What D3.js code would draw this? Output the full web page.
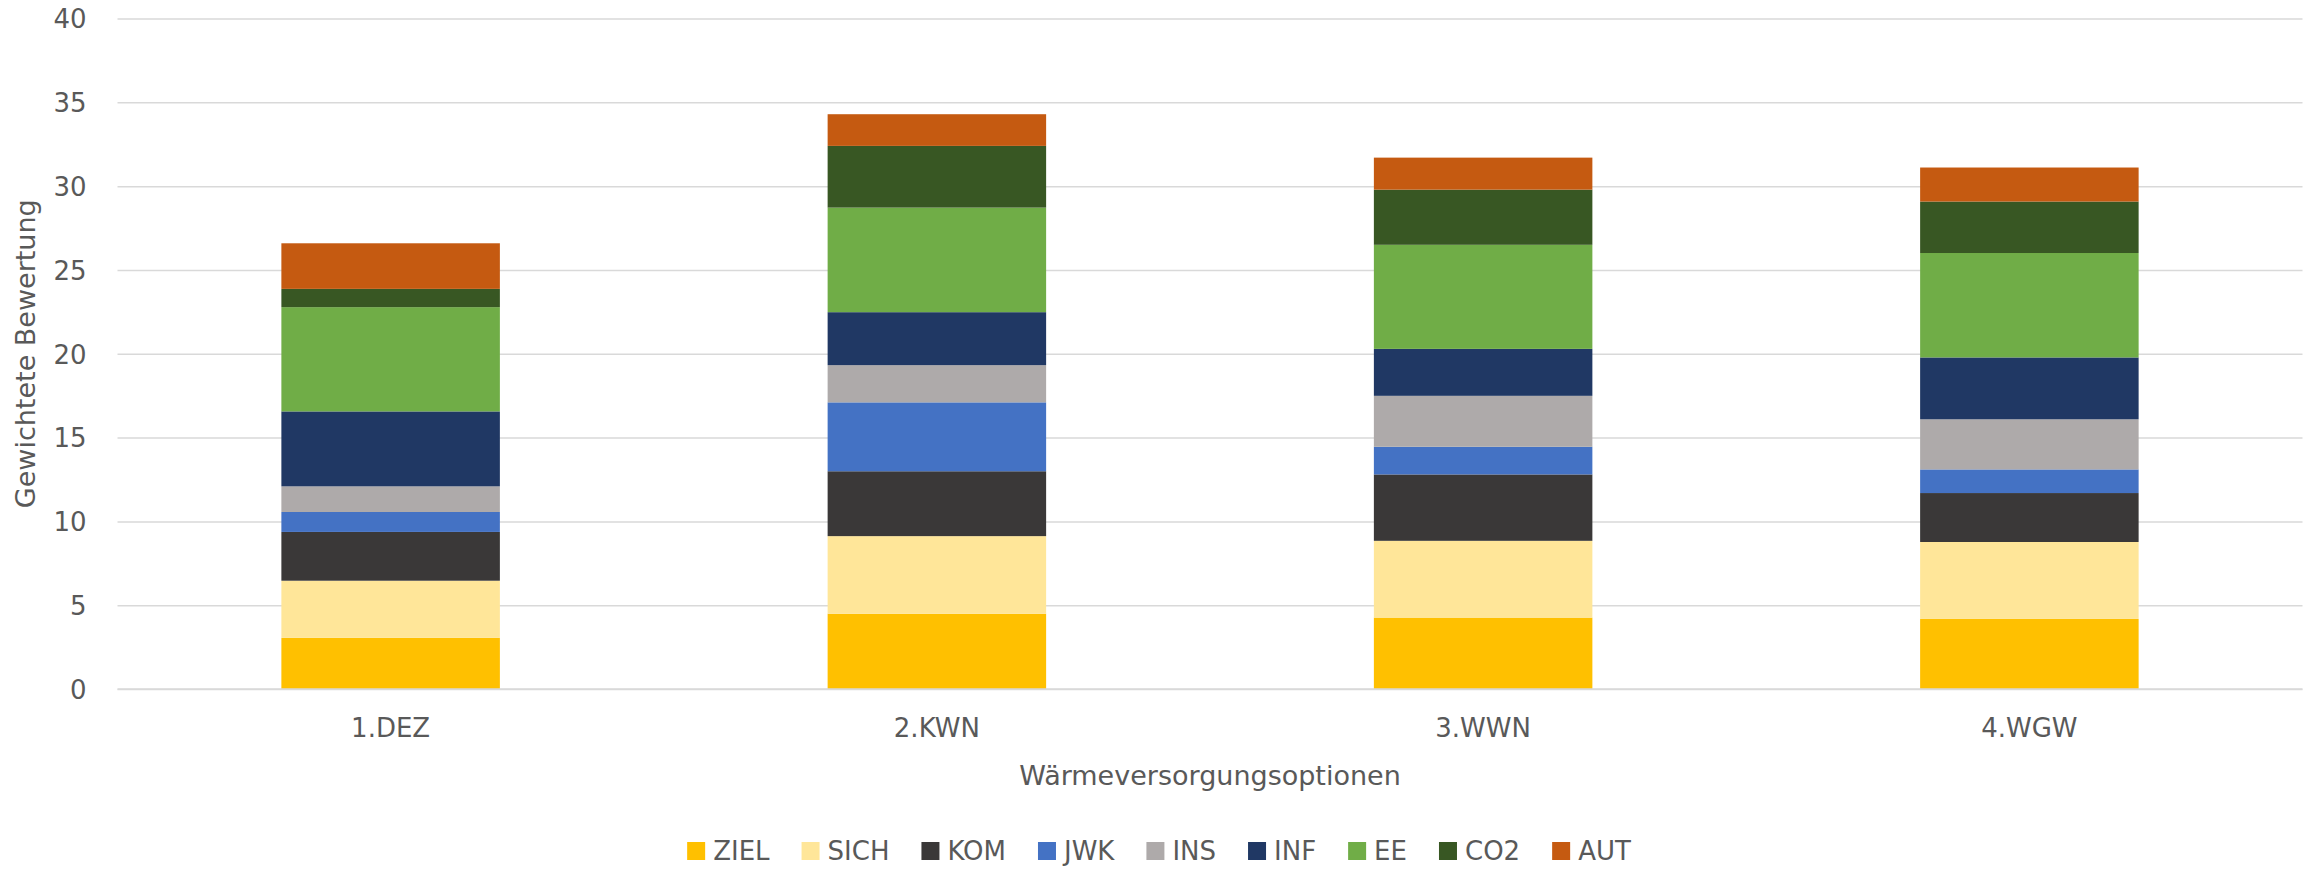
<!DOCTYPE html>
<html>
<head>
<meta charset="utf-8">
<script src="https://cdn.jsdelivr.net/npm/d3@7"></script>
<style>
  html, body { margin: 0; padding: 0; background: #ffffff; }
  svg { display: block; }
  text { font-family: "DejaVu Sans", "Liberation Sans", sans-serif; fill: #595959; }
</style>
</head>
<body>
<svg id="chart" width="2318" height="869"></svg>
<script>
// ---- data ----
const categories = ["1.DEZ", "2.KWN", "3.WWN", "4.WGW"];
const seriesNames = ["ZIEL", "SICH", "KOM", "JWK", "INS", "INF", "EE", "CO2", "AUT"];
const seriesColors = ["#FFC000", "#FFE699", "#3A3838", "#4472C4", "#AEAAAA", "#203864", "#70AD47", "#385723", "#C55A11"];
const ZIEL = [3.05, 4.49, 4.26, 4.18];
const SICH = [3.41, 4.63, 4.58, 4.59];
const KOM  = [2.91, 3.87, 3.96, 2.92];
const JWK  = [1.19, 4.11, 1.65, 1.41];
const INS  = [1.53, 2.22, 3.04, 2.99];
const INF  = [4.47, 3.16, 2.80, 3.69];
const EE   = [6.22, 6.24, 6.21, 6.23];
const CO2  = [1.09, 3.68, 3.29, 3.07];
const AUT  = [2.72, 1.89, 1.91, 2.03];
const yTicks = [0, 5, 10, 15, 20, 25, 30, 35, 40];
const yTitle = "Gewichtete Bewertung";
const xTitle = "Wärmeversorgungsoptionen";

const seriesValues = [ZIEL, SICH, KOM, JWK, INS, INF, EE, CO2, AUT];
const table = categories.map((c, i) => {
  const row = { cat: c };
  seriesNames.forEach((s, j) => { row[s] = seriesValues[j][i]; });
  return row;
});

// ---- layout ----
const svg = d3.select("#chart");
const W = 2318;
const plot = { left: 117.5, right: 2302.5, top: 18.5, bottom: 689 };

const x = d3.scaleBand().domain(categories)
  .range([plot.left, plot.right]).paddingInner(0.6).paddingOuter(0.3);
const y = d3.scaleLinear().domain([0, 40]).range([plot.bottom, plot.top]);
const color = d3.scaleOrdinal().domain(seriesNames).range(seriesColors);

// gridlines
const yAxis = d3.axisLeft(y).tickValues(yTicks).tickSize(-(plot.right - plot.left)).tickPadding(31);
const gy = svg.append("g").attr("transform", `translate(${plot.left},0)`).call(yAxis);
gy.select(".domain").remove();
gy.selectAll(".tick line").attr("stroke", "#d9d9d9").attr("stroke-width", 1.5);
gy.selectAll(".tick text").attr("font-size", 26).attr("fill", "#595959")
  .attr("font-family", "DejaVu Sans").attr("dy", "0.36em");

// stacked bars
const stack = d3.stack().keys(seriesNames);
const layers = stack(table);
svg.append("g").selectAll("g").data(layers).join("g")
  .attr("fill", d => color(d.key))
  .selectAll("rect").data(d => d).join("rect")
  .attr("x", d => x(d.data.cat))
  .attr("width", x.bandwidth())
  .attr("y", d => y(d[1]))
  .attr("height", d => y(d[0]) - y(d[1]));

// x axis (no line, labels only)
const xAxis = d3.axisBottom(x).tickSize(0).tickPadding(30);
const gx = svg.append("g").attr("transform", `translate(0,${plot.bottom})`).call(xAxis);
gx.select(".domain").attr("stroke", "#d9d9d9").attr("stroke-width", 1.5)
  .attr("d", `M${plot.left},0H${plot.right}`);
gx.selectAll(".tick text").attr("font-size", 26).attr("fill", "#595959")
  .attr("font-family", "DejaVu Sans");

// axis titles
svg.append("text").attr("x", (plot.left + plot.right) / 2).attr("y", 785)
  .attr("text-anchor", "middle").attr("font-size", 27).text(xTitle);
svg.append("text")
  .attr("transform", `translate(35,${(plot.top + plot.bottom) / 2}) rotate(-90)`)
  .attr("text-anchor", "middle").attr("font-size", 27).text(yTitle);

// legend
const legend = svg.append("g");
const items = legend.selectAll("g").data(seriesNames).join("g");
items.append("rect").attr("width", 18).attr("height", 18).attr("y", -9)
  .attr("fill", d => color(d));
items.append("text").attr("x", 26).attr("y", 0).attr("dy", "0.36em")
  .attr("font-size", 26).text(d => d);
let cx = 0;
const gap = 32;
items.each(function() {
  const g = d3.select(this);
  const w = 26 + g.select("text").node().getComputedTextLength();
  g.attr("transform", `translate(${cx},0)`);
  cx += w + gap;
});
const totalW = cx - gap;
legend.attr("transform", `translate(${(W - totalW) / 2},851)`);
</script>
</body>
</html>
